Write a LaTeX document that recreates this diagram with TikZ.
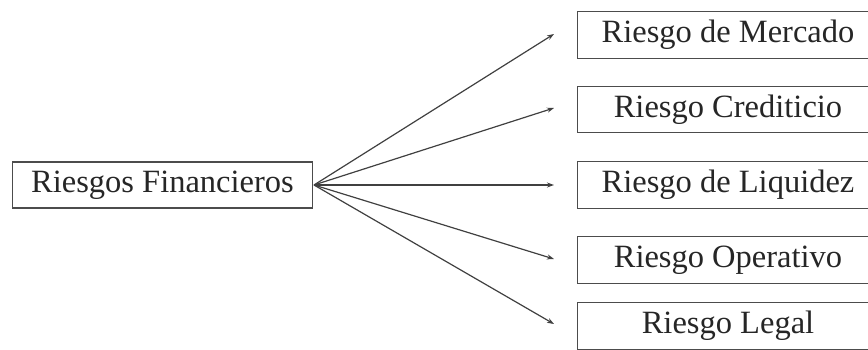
\documentclass[tikz,border=0pt]{standalone}
\usepackage{fontspec}
\setmainfont{Liberation Serif}
\usetikzlibrary{arrows.meta}
\begin{document}
\begin{tikzpicture}[x=1pt,y=-1pt,
  txt/.style={minimum width=300pt,minimum height=46pt,inner sep=0pt,
    font=\fontsize{32.5}{36}\selectfont,text=black!85},
  box/.style={txt,draw=black!70,line width=1.1pt},
  rbox/.style={txt},
  edge/.style={draw=black!70,line width=1.1pt},
  conn/.style={draw=black!75,line width=1.2pt,-{Stealth[length=7pt,width=5pt]}}]
\useasboundingbox (0,0) rectangle (868,350);
\node[box] (L) at (162.5,185) {Riesgos Financieros};
\node[rbox] (m) at (728,35) {Riesgo de Mercado};
\node[rbox] (c) at (728,109.5) {Riesgo Crediticio};
\node[rbox] (q) at (728,185) {Riesgo de Liquidez};
\node[rbox] (o) at (728,260) {Riesgo Operativo};
\node[rbox] (g) at (728,326) {Riesgo Legal};
\foreach \n in {m,c,q,o,g}
  \draw[edge] (\n.north east) -- (\n.north west) -- (\n.south west) -- (\n.south east);
\coordinate (em) at (554,34);
\coordinate (ec) at (554,108);
\coordinate (eq) at (554,185);
\coordinate (eo) at (554,259);
\coordinate (eg) at (554,324);
\coordinate (s) at (314,185);
\foreach \e in {em,ec,eq,eo,eg} \draw[conn] (s) -- (\e);
\end{tikzpicture}
\end{document}
